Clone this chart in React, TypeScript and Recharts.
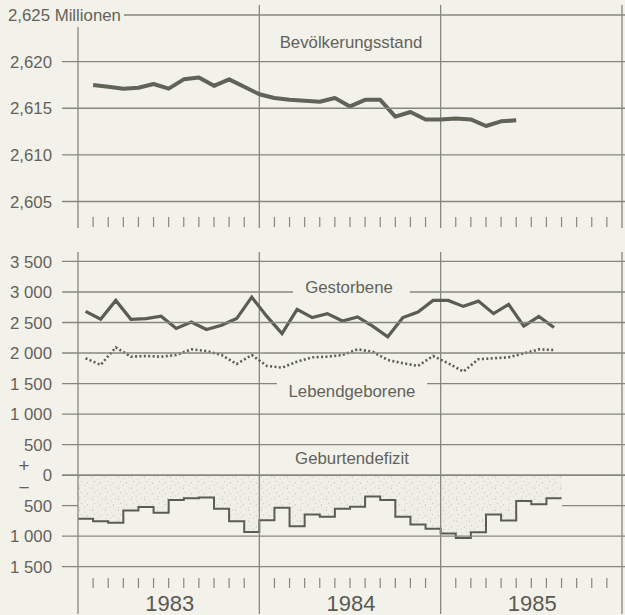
import { ComposedChart, Line, Area, XAxis, YAxis, ReferenceLine } from "recharts";

const BG = "#f3f2ea";
const INK = "#5a5d52";
const GRID = "#86887c";
const TEXT = "#62625b";
const FONT = '"Liberation Sans", Arial, Helvetica, sans-serif';
const FS = 16.8;

const years = ["1983", "1984", "1985"];

// Bevölkerungsstand am Monatsende in Mio. (Jan 1983 - Mai 1985)
const bevoelkerung = [
  2.6175, 2.6173, 2.6171, 2.6172, 2.6176, 2.6171, 2.6181, 2.6183, 2.6174, 2.6181, 2.6173, 2.6165,
  2.6161, 2.6159, 2.6158, 2.6157, 2.6161, 2.6152, 2.6159, 2.6159, 2.6141, 2.6146, 2.6138, 2.6138,
  2.6139, 2.6138, 2.6131, 2.6136, 2.6137,
];

// Monatswerte Jan 1983 - Aug 1985
const gestorbene = [
  2683, 2553, 2862, 2553, 2564, 2602, 2402, 2509, 2385, 2455, 2564, 2915,
  2600, 2320, 2715, 2580, 2645, 2525, 2590, 2440, 2265, 2580, 2672, 2862,
  2862, 2764, 2850, 2645, 2797, 2440, 2600, 2418,
];

const lebendgeborene = [
  1914, 1805, 2093, 1940, 1951, 1940, 1967, 2060, 2033, 1967, 1821, 1967,
  1789, 1761, 1859, 1930, 1940, 1967, 2060, 2021, 1886, 1833, 1789, 1951,
  1833, 1696, 1898, 1914, 1930, 1995, 2060, 2049,
];

const defizit = [
  -716, -755, -782, -579, -524, -617, -408, -380, -369, -550, -755, -931,
  -739, -534, -838, -645, -683, -550, -517, -352, -408, -683, -810, -881,
  -959, -1030, -937, -645, -744, -425, -479, -380,
];

const popTicks = [2.605, 2.61, 2.615, 2.62, 2.625];
const popTickLabels = ["2,605", "2,610", "2,615", "2,620", "2,625 Millionen"];
const flowTicks = [3500, 3000, 2500, 2000, 1500, 1000, 500, 0, -500, -1000, -1500];
const flowTickLabels = ["3 500", "3 000", "2 500", "2 000", "1 500", "1 000", "500", "0", "500", "1 000", "1 500"];

// gaps in the horizontal rules (pixel ranges) where labels / data sit
const ruleGaps: Record<string, [number, number]> = {
  "3000": [293, 410],
  "1500": [277, 427],
  "-500": [78, 562],
};

const monthTicks = Array.from({ length: 35 }, (_, i) => i + 1).filter((m) => m % 12 !== 0);

const popData = bevoelkerung.map((v, i) => ({ x: i + 1, v }));
const deathData = gestorbene.map((v, i) => ({ x: i + 0.5, v }));
const birthData = lebendgeborene.map((v, i) => ({ x: i + 0.5, v }));
const deficitData = [
  ...defizit.map((v, i) => ({ x: i, v })),
  { x: defizit.length, v: defizit[defizit.length - 1] },
];

const findIdx = (arr: number[], v: number) => arr.findIndex((t) => Math.abs(t - v) < 1e-6);

const PopTick = (props: any) => {
  const { y, payload } = props;
  const i = findIdx(popTicks, payload.value);
  const top = i === popTicks.length - 1;
  return (
    <g>
      <line x1={top ? 124 : 62} x2={625} y1={y} y2={y} stroke={GRID} strokeWidth={1.3} />
      <text
        x={top ? 8 : 52}
        y={y}
        dy="0.36em"
        textAnchor={top ? "start" : "end"}
        fontSize={FS}
        fontFamily={FONT}
        fill={TEXT}
      >
        {popTickLabels[i]}
      </text>
    </g>
  );
};

const FlowTick = (props: any) => {
  const { y, payload } = props;
  const i = findIdx(flowTicks, payload.value);
  const gap = ruleGaps[String(payload.value)];
  return (
    <g>
      {gap ? (
        <>
          <line x1={62} x2={gap[0]} y1={y} y2={y} stroke={GRID} strokeWidth={1.3} />
          <line x1={gap[1]} x2={625} y1={y} y2={y} stroke={GRID} strokeWidth={1.3} />
        </>
      ) : (
        <line x1={62} x2={625} y1={y} y2={y} stroke={GRID} strokeWidth={payload.value === 0 ? 1.6 : 1.3} />
      )}
      <text x={52} y={y} dy="0.36em" textAnchor="end" fontSize={FS} fontFamily={FONT} fill={TEXT}>
        {flowTickLabels[i]}
      </text>
    </g>
  );
};

const monthTick = (y1: number, y2: number, yearY?: number) => (props: any) => {
  const { x, payload } = props;
  const m = payload.value;
  return (
    <g>
      <line x1={x} x2={x} y1={y1} y2={y2} stroke={GRID} strokeWidth={1.2} />
      {yearY !== undefined && m % 12 === 6 ? (
        <text x={x + 1} y={yearY} textAnchor="middle" fontSize={22} fontFamily={FONT} fill="#5a5a54">
          {years[Math.floor(m / 12)]}
        </text>
      ) : null}
    </g>
  );
};

const label = (text: string, cx: number, cy: number, size = FS) => (
  <div
    style={{
      position: "absolute",
      left: cx,
      top: cy,
      transform: "translate(-50%, -50%)",
      fontSize: size,
      lineHeight: 1,
      whiteSpace: "nowrap",
      color: TEXT,
      fontFamily: FONT,
    }}
  >
    {text}
  </div>
);

export default function App() {
  return (
    <div
      style={{
        position: "absolute",
        left: 0,
        top: 0,
        width: 625,
        height: 615,
        background: BG,
        overflow: "hidden",
        fontFamily: FONT,
      }}
    >
      <div style={{ position: "absolute", left: 0, top: 0 }}>
        <ComposedChart width={625} height={240} margin={{ top: 5, right: 0, bottom: 11, left: 0 }}>
          <XAxis
            type="number"
            dataKey="x"
            domain={[0, 36.2]}
            ticks={monthTicks}
            interval={0}
            height={1}
            axisLine={false}
            tickLine={false}
            tick={monthTick(217, 227)}
            allowDataOverflow
          />
          <YAxis
            type="number"
            domain={[2.602158, 2.626072]}
            ticks={popTicks}
            interval={0}
            width={78}
            axisLine={false}
            tickLine={false}
            tick={PopTick}
            allowDataOverflow
          />
          <ReferenceLine
            segment={[
              { x: 0, y: 2.6237 },
              { x: 0, y: 2.602158 },
            ]}
            stroke={GRID}
            strokeWidth={1.3}
          />
          {[12, 24, 36].map((m) => (
            <ReferenceLine key={m} x={m} stroke={GRID} strokeWidth={1.3} />
          ))}
          <Line
            data={popData}
            dataKey="v"
            type="linear"
            stroke="#5f6457"
            strokeWidth={4}
            dot={false}
            strokeLinejoin="round"
            isAnimationActive={false}
          />
        </ComposedChart>
      </div>

      <div style={{ position: "absolute", left: 0, top: 245 }}>
        <ComposedChart width={625} height={370} margin={{ top: 7, right: 0, bottom: 0, left: 0 }}>
          <defs>
            <pattern id="stipple" width="13" height="11" patternUnits="userSpaceOnUse">
              <rect width="13" height="11" fill="#f0efe7" />
              <circle cx="1.5" cy="1.2" r="0.6" fill="#bdbdb3" />
              <circle cx="7.2" cy="2.9" r="0.5" fill="#c6c6bc" />
              <circle cx="11.4" cy="0.8" r="0.5" fill="#c2c2b8" />
              <circle cx="3.6" cy="5.6" r="0.55" fill="#c0c0b6" />
              <circle cx="9.3" cy="6.8" r="0.6" fill="#babab0" />
              <circle cx="1.9" cy="9.4" r="0.5" fill="#c8c8be" />
              <circle cx="6.4" cy="9.1" r="0.5" fill="#bfbfb5" />
            </pattern>
          </defs>
          <XAxis
            type="number"
            dataKey="x"
            domain={[0, 36.2]}
            ticks={monthTicks}
            interval={0}
            height={1}
            axisLine={false}
            tickLine={false}
            tick={monthTick(333, 343, 366)}
            allowDataOverflow
          />
          <YAxis
            type="number"
            domain={[-2276, 3655]}
            ticks={flowTicks}
            interval={0}
            width={78}
            axisLine={false}
            tickLine={false}
            tick={FlowTick}
            allowDataOverflow
          />
          {[0, 12, 24, 36].map((m) => (
            <ReferenceLine key={m} x={m} stroke={GRID} strokeWidth={1.3} />
          ))}
          <Area
            data={deficitData}
            dataKey="v"
            type="stepAfter"
            baseValue={0}
            stroke={INK}
            strokeWidth={2}
            fill="url(#stipple)"
            fillOpacity={1}
            isAnimationActive={false}
          />
          <Line
            data={deathData}
            dataKey="v"
            type="linear"
            stroke={INK}
            strokeWidth={3.2}
            dot={false}
            isAnimationActive={false}
          />
          <Line
            data={birthData}
            dataKey="v"
            type="linear"
            stroke={INK}
            strokeWidth={2.6}
            strokeDasharray="2 2.4"
            dot={false}
            isAnimationActive={false}
          />
        </ComposedChart>
      </div>

      {label("Bevölkerungsstand", 351, 43)}
      {label("Gestorbene", 349, 288)}
      {label("Lebendgeborene", 352, 392)}
      {label("Geburtendefizit", 352, 459)}
      {label("+", 24, 465, 19)}
      {label("\u2212", 24, 487, 19)}
    </div>
  );
}
